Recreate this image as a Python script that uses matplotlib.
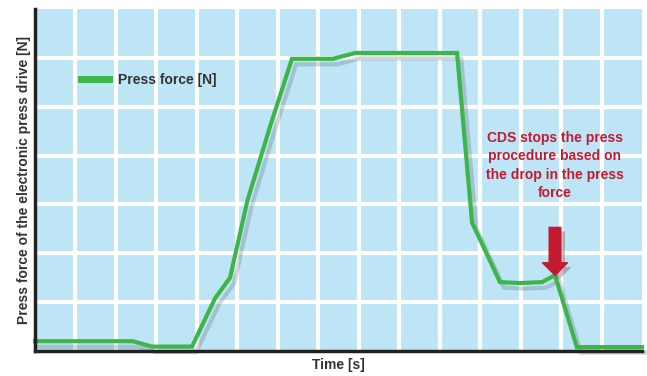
import matplotlib.pyplot as plt
import matplotlib.patheffects as pe

# press force curve, x in grid cells (time), y in grid cells (force)
time_s = [0.0, 2.42, 2.89, 3.88, 4.45, 4.82, 5.25, 5.83, 6.35, 7.36, 7.91,
          10.43, 10.80, 11.49, 11.98, 12.53, 12.85, 13.39, 15.0]
force_n = [0.2, 0.2, 0.09, 0.09, 1.08, 1.5, 3.08, 4.65, 5.98, 5.98, 6.1,
           6.1, 2.63, 1.41, 1.39, 1.41, 1.55, 0.08, 0.08]

stop_x = 12.85
stop_y = 1.55
note = "CDS stops the press\nprocedure based on\nthe drop in the press\nforce"

green = '#3db54a'
red = '#c41a30'
blue = '#bee5f6'
dark = '#333333'
fonts = ['Liberation Sans', 'DejaVu Sans']

fig = plt.figure(figsize=(6.47, 3.76), dpi=100)
ax = fig.add_axes([35 / 647, 25 / 376, 607 / 647, 342 / 376])
ax.set_facecolor(blue)
ax.set_xlim(0, 15)
ax.set_ylim(0, 7)
ax.set_xticks(range(1, 15))
ax.set_yticks(range(1, 7))
ax.grid(True, color='white', linewidth=3)
ax.tick_params(length=0, labelbottom=False, labelleft=False)
for s in ['top', 'right']:
    ax.spines[s].set_visible(False)
for s in ['left', 'bottom']:
    ax.spines[s].set_linewidth(2.5)
    ax.spines[s].set_color('#222222')

shadow = [pe.SimpleLineShadow(offset=(3, -4), shadow_color='#4a5a66', alpha=0.25), pe.Normal()]
ax.plot(time_s, force_n, color=green, linewidth=3, solid_joinstyle='miter',
        label='Press force [N]', path_effects=shadow, clip_on=False)

# red arrow pointing at the stop point
ax.annotate('', xy=(stop_x, stop_y), xytext=(stop_x, stop_y + 0.98),
            arrowprops=dict(arrowstyle='simple,head_length=0.45,head_width=0.9,tail_width=0.42',
                            mutation_scale=20, color=red, shrinkA=0, shrinkB=0,
                            path_effects=[pe.SimplePatchShadow(offset=(3, -3), alpha=0.25),
                                          pe.Normal()]))

ax.text(stop_x, 3.8, note, color=red, fontsize=10, fontweight='bold',
        family=fonts, ha='center', va='center', linespacing=1.4)

leg = ax.legend(loc='upper left', bbox_to_anchor=(0.055, 0.85), frameon=False,
                handlelength=2.0, handletextpad=0.7,
                prop={'family': fonts, 'weight': 'bold', 'size': 10})
for t in leg.get_texts():
    t.set_color(dark)
for h in leg.get_lines():
    h.set_linewidth(5)
    h.set_path_effects([])

ax.set_xlabel('Time [s]', fontsize=10, fontweight='bold', color=dark,
              family=fonts, labelpad=5)
ax.set_ylabel('Press force of the electronic press drive [N]', fontsize=10,
              fontweight='bold', color=dark, family=fonts, labelpad=3)

fig.savefig('out.png', dpi=100)
